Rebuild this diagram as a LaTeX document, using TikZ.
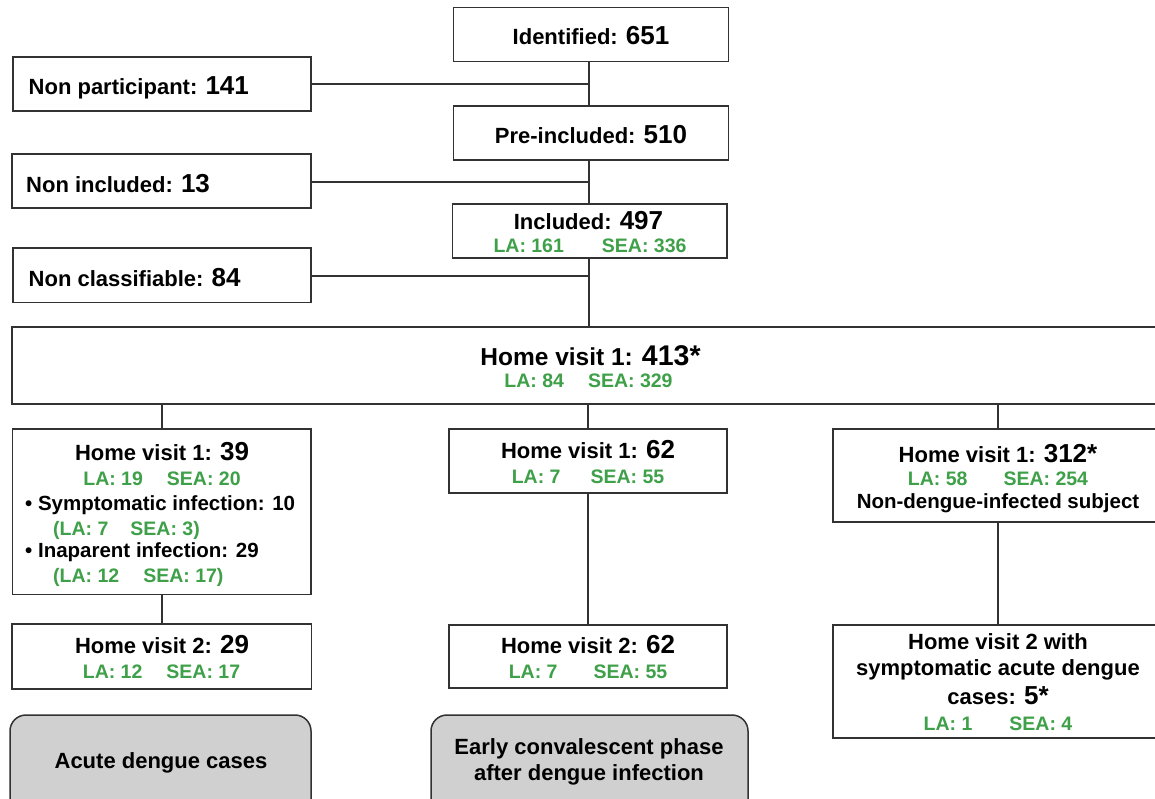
\documentclass[tikz,border=0pt]{standalone}
\usepackage{fontspec}
\setmainfont{Liberation Sans}
\definecolor{grn}{RGB}{62,160,72}
\definecolor{edgec}{RGB}{50,50,50}
\definecolor{greyfill}{RGB}{208,208,208}
\newcommand\fsz[1]{\fontsize{#1}{#1}\selectfont}
\newcommand\bignum[1]{{\fsz{26}#1}}
\begin{document}
\begin{tikzpicture}[x=1pt,y=-1pt,
  box/.style={draw=edgec, line width=1.5pt, fill=white, inner sep=0pt},
  greybox/.style={box, fill=greyfill, rounded corners=16pt},
  txt/.style={inner sep=0pt, font=\bfseries\fsz{22}, anchor=base},
  lt/.style={txt, anchor=base west},
  gtxt/.style={inner sep=0pt, font=\bfseries\fsz{19.5}, text=grn, anchor=base},
  glt/.style={gtxt, anchor=base west},
  link/.style={draw=edgec, line width=1.5pt}]
\clip (0,0) rectangle (1155,798);
\fill[white] (0,0) rectangle (1155,798);
\coordinate (sx) at (589,0);
% boxes
\node[box, minimum width=275pt, minimum height=54pt] (ident) at (591,34.5) {};
\node[box, minimum width=298pt, minimum height=54pt] (nonpart) at (162,84) {};
\node[box, minimum width=275pt, minimum height=54pt] (preinc) at (591,133) {};
\node[box, minimum width=299pt, minimum height=54pt] (noninc) at (161.5,181) {};
\node[box, minimum width=274.5pt, minimum height=54pt] (inc) at (589.75,231) {};
\node[box, minimum width=298pt, minimum height=54.5pt] (noncl) at (162,275.25) {};
\node[box, minimum width=1156pt, minimum height=77pt] (big) at (590,365.5) {};
\node[box, minimum width=298.5pt, minimum height=165.5pt] (hvA1) at (161.75,511.75) {};
\node[box, minimum width=278pt, minimum height=64pt] (hvB1) at (588,461) {};
\node[box, minimum width=330pt, minimum height=93pt] (hvC1) at (998,475.5) {};
\node[box, minimum width=299.5pt, minimum height=65pt] (hvA2) at (161.75,656.5) {};
\node[box, minimum width=278pt, minimum height=63pt] (hvB2) at (588,656.5) {};
\node[box, minimum width=330pt, minimum height=113pt] (hvC2) at (998,681.5) {};
\node[greybox, minimum width=301pt, minimum height=105pt] (greyA) at (160.5,767.5) {};
\node[greybox, minimum width=317pt, minimum height=105pt] (greyB) at (589.5,767.5) {};
% connectors
\draw[link] (ident.south -| sx) -- (preinc.north -| sx);
\draw[link] (preinc.south -| sx) -- (inc.north -| sx);
\draw[link] (inc.south -| sx) -- (big.north -| sx);
\draw[link] (nonpart.east) -- (nonpart.east -| sx);
\draw[link] ([yshift=-1pt]noninc.east) -- ([yshift=-1pt]noninc.east -| sx);
\draw[link] ([yshift=-0.75pt]noncl.east) -- ([yshift=-0.75pt]noncl.east -| sx);
\draw[link] (big.south -| hvA1.north) -- (hvA1.north);
\draw[link] (big.south -| hvB1.north) -- (hvB1.north);
\draw[link] (big.south -| hvC1.north) -- (hvC1.north);
\draw[link] (hvA1.south) -- (hvA2.north);
\draw[link] (hvB1.south) -- (hvB2.north);
\draw[link] (hvC1.south) -- (hvC2.north);
% texts
\node[txt] (tident) at (591,44) {Identified: \bignum{651}};
\node[lt] (tnonpart) at (28.5,94) {Non participant: \bignum{141}};
\node[txt] (tpre) at (591,143) {Pre-included: \bignum{510}};
\node[lt] (tnoninc) at (26,192) {Non included: \bignum{13}};
\node[txt] (tinc) at (588.5,229) {Included: \bignum{497}};
\node[gtxt] (ginc) at (590,252) {LA: 161\hspace{38pt}SEA: 336};
\node[lt] (tnoncl) at (28.5,286) {Non classifiable: \bignum{84}};
\node[txt, font=\bfseries\fsz{24.5}] (tbig) at (590.5,365) {Home visit 1: {\fsz{28.5}413*}};
\node[gtxt] (gbig) at (588.5,387) {LA: 84\hspace{24pt}SEA: 329};
\node[txt] (tA1) at (162,460) {Home visit 1: \bignum{39}};
\node[gtxt] (gA1) at (162,485) {LA: 19\hspace{24pt}SEA: 20};
\node[lt, font=\bfseries\fsz{20.5}] (sA1) at (25,510) {\textbullet\ Symptomatic infection: 10};
\node[glt] (gsA1) at (53,535) {(LA: 7\hspace{22pt}SEA: 3)};
\node[lt, font=\bfseries\fsz{20.5}] (iA1) at (25,557) {\textbullet\ Inaparent infection: 29};
\node[glt] (giA1) at (53,582) {(LA: 12\hspace{24pt}SEA: 17)};
\node[txt] (tB1) at (588,458) {Home visit 1: \bignum{62}};
\node[gtxt] (gB1) at (588,483) {LA: 7\hspace{30pt}SEA: 55};
\node[txt] (tC1) at (998,462) {Home visit 1: \bignum{312*}};
\node[gtxt] (gC1) at (998,485.5) {LA: 58\hspace{36pt}SEA: 254};
\node[txt, font=\bfseries\fsz{20.5}] (nC1) at (998,508) {Non-dengue-infected subject};
\node[txt] (tA2) at (162,653) {Home visit 2: \bignum{29}};
\node[gtxt] (gA2) at (161.5,678) {LA: 12\hspace{24pt}SEA: 17};
\node[txt] (tB2) at (588,653) {Home visit 2: \bignum{62}};
\node[gtxt] (gB2) at (588,678) {LA: 7\hspace{36pt}SEA: 55};
\node[txt] (tC2a) at (998,649) {Home visit 2 with};
\node[txt] (tC2b) at (998,675) {symptomatic acute dengue};
\node[txt] (tC2c) at (998,704) {cases: \bignum{5*}};
\node[gtxt] (gC2) at (998,730) {LA: 1\hspace{37pt}SEA: 4};
\node[txt] (tgA) at (161,768) {Acute dengue cases};
\node[txt] (tgB1) at (589,754) {Early convalescent phase};
\node[txt] (tgB2) at (589,780) {after dengue infection};
\end{tikzpicture}
\end{document}
